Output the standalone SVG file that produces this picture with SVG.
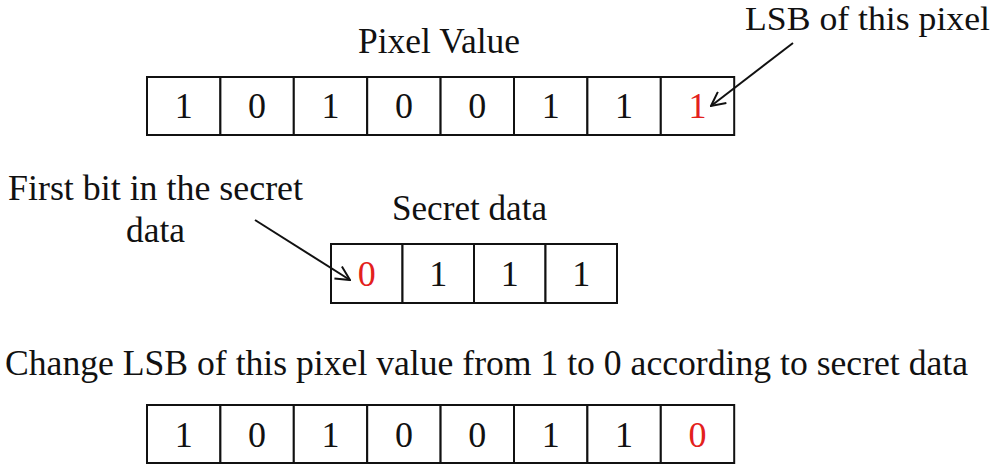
<svg xmlns="http://www.w3.org/2000/svg" width="995" height="468" viewBox="0 0 995 468">
<style>
text{font-family:"Liberation Serif","Times New Roman",serif;font-size:36px;fill:#111}
.d{text-anchor:middle}
.r{fill:#e3211c}
.cell{fill:#fff;stroke:#111;stroke-width:2}
.conn{stroke:#111;stroke-width:2;fill:none}
</style>
<defs>
<marker id="ah" viewBox="0 0 16 16" refX="15" refY="8" markerWidth="16" markerHeight="16" markerUnits="userSpaceOnUse" orient="auto">
<path d="M1,1 L15,8 L1,15" fill="none" stroke="#111" stroke-width="2"/>
</marker>
</defs>
<rect width="995" height="468" fill="#fff"/>
<g id="label-pixel-value"><text x="358" y="53" textLength="162" lengthAdjust="spacingAndGlyphs">Pixel Value</text></g>
<g id="label-lsb"><text x="745" y="30" style="font-size:34px" textLength="245" lengthAdjust="spacingAndGlyphs">LSB of this pixel</text></g>
<g id="pixel-row">
<rect class="cell" x="147" y="77" width="73.4" height="58"/>
<rect class="cell" x="220.4" y="77" width="73.4" height="58"/>
<rect class="cell" x="293.8" y="77" width="73.4" height="58"/>
<rect class="cell" x="367.2" y="77" width="73.4" height="58"/>
<rect class="cell" x="440.6" y="77" width="73.4" height="58"/>
<rect class="cell" x="514" y="77" width="73.4" height="58"/>
<rect class="cell" x="587.4" y="77" width="73.4" height="58"/>
<rect class="cell" x="660.8" y="77" width="73.4" height="58"/>
<text class="d" x="183.7" y="118">1</text>
<text class="d" x="257.1" y="118">0</text>
<text class="d" x="330.5" y="118">1</text>
<text class="d" x="403.9" y="118">0</text>
<text class="d" x="477.3" y="118">0</text>
<text class="d" x="550.7" y="118">1</text>
<text class="d" x="624.1" y="118">1</text>
<text class="d r" x="697.5" y="118">1</text>
</g>
<g id="label-first-bit">
<text x="8" y="200" textLength="295" lengthAdjust="spacingAndGlyphs">First bit in the secret</text>
<text x="126" y="242" textLength="59" lengthAdjust="spacingAndGlyphs">data</text>
</g>
<g id="label-secret-data"><text x="392" y="220" textLength="155" lengthAdjust="spacingAndGlyphs">Secret data</text></g>
<g id="secret-row">
<rect class="cell" x="331" y="244" width="71.5" height="59"/>
<rect class="cell" x="402.5" y="244" width="71.5" height="59"/>
<rect class="cell" x="474" y="244" width="71.5" height="59"/>
<rect class="cell" x="545.5" y="244" width="71.5" height="59"/>
<text class="d r" x="366.8" y="286">0</text>
<text class="d" x="438.3" y="286">1</text>
<text class="d" x="509.8" y="286">1</text>
<text class="d" x="581.3" y="286">1</text>
</g>
<g id="label-change"><text x="5" y="375" textLength="963" lengthAdjust="spacingAndGlyphs">Change LSB of this pixel value from 1 to 0 according to secret data</text></g>
<g id="result-row">
<rect class="cell" x="147" y="405" width="73.4" height="58"/>
<rect class="cell" x="220.4" y="405" width="73.4" height="58"/>
<rect class="cell" x="293.8" y="405" width="73.4" height="58"/>
<rect class="cell" x="367.2" y="405" width="73.4" height="58"/>
<rect class="cell" x="440.6" y="405" width="73.4" height="58"/>
<rect class="cell" x="514" y="405" width="73.4" height="58"/>
<rect class="cell" x="587.4" y="405" width="73.4" height="58"/>
<rect class="cell" x="660.8" y="405" width="73.4" height="58"/>
<text class="d" x="183.7" y="447">1</text>
<text class="d" x="257.1" y="447">0</text>
<text class="d" x="330.5" y="447">1</text>
<text class="d" x="403.9" y="447">0</text>
<text class="d" x="477.3" y="447">0</text>
<text class="d" x="550.7" y="447">1</text>
<text class="d" x="624.1" y="447">1</text>
<text class="d r" x="697.5" y="447">0</text>
</g>
<g id="connectors">
<line class="conn" x1="793" y1="43" x2="711" y2="106" marker-end="url(#ah)"/>
<line class="conn" x1="255" y1="220" x2="350" y2="280" marker-end="url(#ah)"/>
</g>
</svg>
